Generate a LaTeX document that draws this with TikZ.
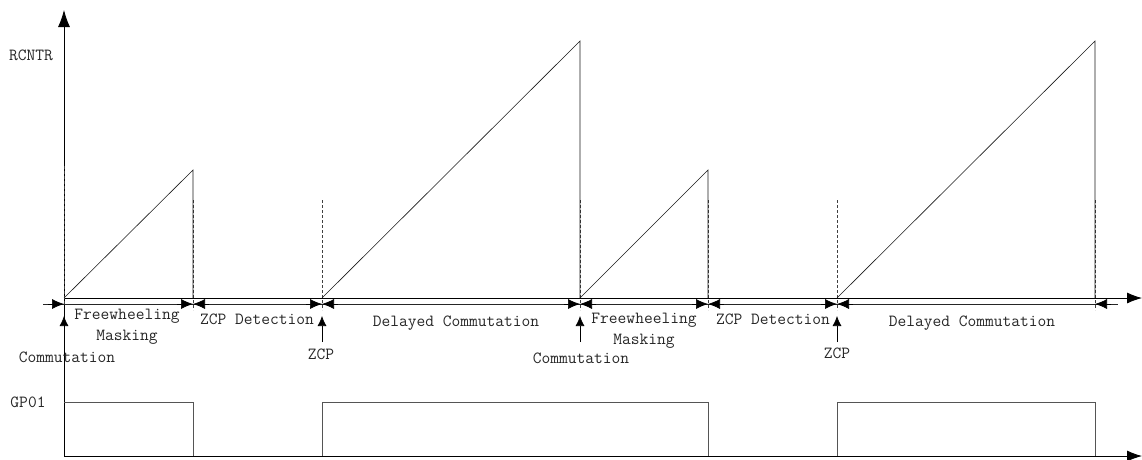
\documentclass[tikz,border=0pt]{standalone}
\usepackage{xcolor}
\usepackage{tikz}
\usetikzlibrary{arrows.meta,calc}
\definecolor{trace}{HTML}{1A1A1A}
\definecolor{signal}{HTML}{555555}
\definecolor{inktext}{HTML}{262626}
\newcommand{\chartfont}{\fontsize{17}{21}\selectfont\ttfamily}
\tikzset{
  axisline/.style={line width=0.8pt, draw=black, -{Latex[length=15pt,width=11pt]}},
  yaxisline/.style={line width=0.8pt, draw=black, -{Latex[length=17pt,width=12pt]}},
  ramp/.style={line width=0.6pt, draw=trace},
  marker/.style={line width=0.6pt, draw=black!75, dash pattern=on 3pt off 2pt},
  spanline/.style={line width=0.7pt, draw=black!85},
  spantip/.style={line width=0.7pt, draw=black, -{Latex[length=12pt,width=10pt]}},
  eventarrow/.style={line width=0.7pt, draw=black, -{Latex[length=10pt,width=9pt]}},
  gpio/.style={line width=0.8pt, draw=signal},
  chartlabel/.style={font=\chartfont, text=inktext, inner sep=0pt, align=center}
}

\begin{document}
\begin{tikzpicture}[x=1pt,y=-1pt]
\path[use as bounding box] (0,0) rectangle (1142,459);

\coordinate (t0) at (64,298);
\coordinate (t1) at (193,298);
\coordinate (t2) at (322,298);
\coordinate (t3) at (580,298);
\coordinate (t4) at (708,298);
\coordinate (t5) at (837,298);
\coordinate (t6) at (1095,298);
\coordinate (xend) at (1142,298);
\coordinate (yend) at (64,10);
\coordinate (origin) at (64,456);
\coordinate (gend) at (1142,456);
\coordinate (lowpeak) at (0,170);
\coordinate (highpeak) at (0,41);
\coordinate (ghigh) at (64,402);
\coordinate (glow) at (64,456);
\coordinate (spanstart) at (43,304);
\coordinate (spanend) at (1118,304);
\coordinate (evbase) at (0,342);
\coordinate (evtip) at (0,316);

\draw[yaxisline] (origin) -- (yend);
\draw[axisline] (t0) -- (xend);
\draw[axisline] (origin) -- (gend);

\draw[marker] (64,166) -- (64,305);
\foreach \b in {1,...,6} {
  \draw[marker] ($(t\b)+(0,-98)$) -- ($(t\b)+(0,12)$);
}

\draw[ramp] (t0) -- (t1 |- lowpeak) -- (t1);
\draw[ramp] (t2) -- (t3 |- highpeak) -- (t3);
\draw[ramp] (t3) -- (t4 |- lowpeak) -- (t4);
\draw[ramp] (t5) -- (t6 |- highpeak) -- (t6);

\draw[spanline] (spanstart) -- (spanend);
\foreach \b in {0,...,6} {
  \coordinate (s\b) at (t\b |- spanstart);
}
\foreach \b in {0,...,5} {
  \draw[spantip] ([xshift=-16pt]s\b) -- (s\b);
}
\foreach \b in {1,...,6} {
  \draw[spantip] ([xshift=16pt]s\b) -- (s\b);
}

\foreach \b in {0,2,3,5} {
  \draw[eventarrow] (t\b |- evbase) -- (t\b |- evtip);
}

\draw[gpio] (ghigh) -- (t1 |- ghigh) -- (t1 |- glow);
\draw[gpio] (t2 |- glow) -- (t2 |- ghigh) -- (t4 |- ghigh) -- (t4 |- glow);
\draw[gpio] (t5 |- glow) -- (t5 |- ghigh) -- (t6 |- ghigh) -- (t6 |- glow);

\node[chartlabel] (rcntr) at (31,55) {RCNTR};
\node[chartlabel] (gpo) at (28,402) {GP01};

\node[chartlabel] (mask1) at (127,327) {Freewheeling\\Masking};
\node[chartlabel] (zcpd1) at (257,319) {ZCP Detection};
\node[chartlabel] (delay1) at (456,323) {Delayed Commutation};
\node[chartlabel] (mask2) at (644,331) {Freewheeling\\Masking};
\node[chartlabel] (zcpd2) at (773,319) {ZCP Detection};
\node[chartlabel] (delay2) at (972,323) {Delayed Commutation};

\node[chartlabel] (comm1) at (67,357) {Commutation};
\node[chartlabel] (zcp1) at (321,354) {ZCP};
\node[chartlabel] (comm2) at (581,358) {Commutation};
\node[chartlabel] (zcp2) at (837,353) {ZCP};

\end{tikzpicture}
\end{document}
